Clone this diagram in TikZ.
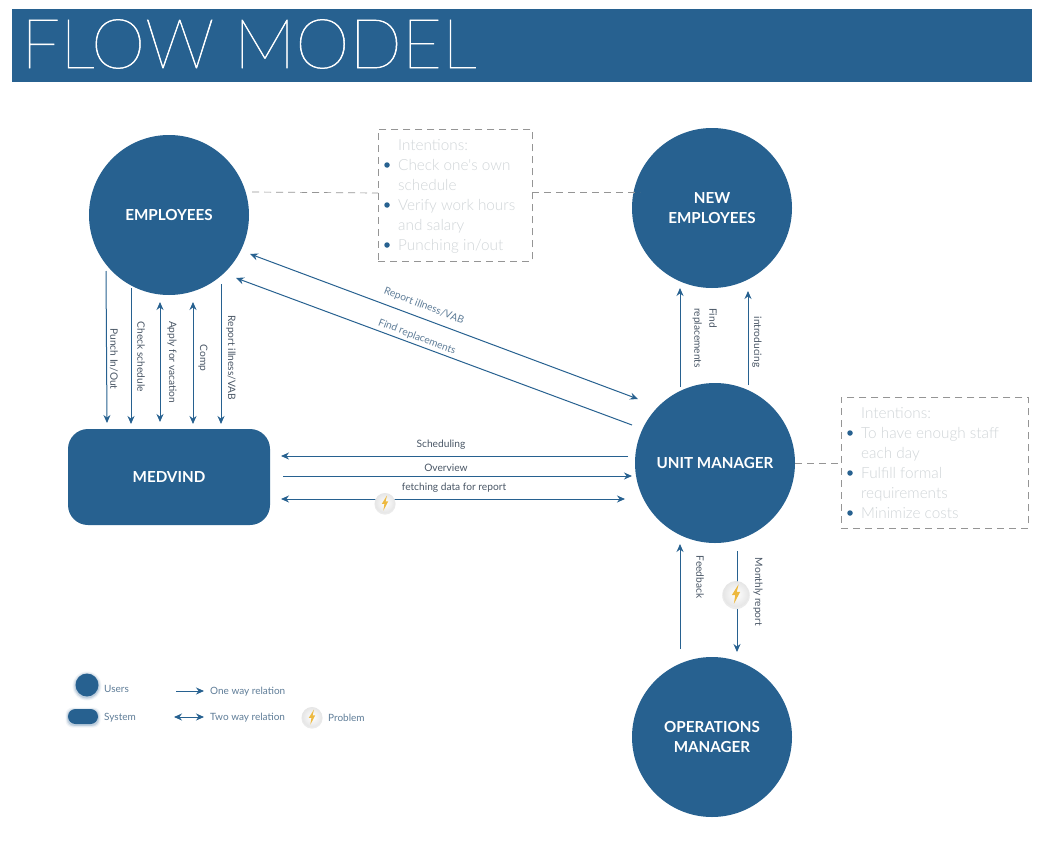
\documentclass[tikz,border=0pt]{standalone}
\usepackage{fontspec}
\usetikzlibrary{arrows.meta}
\setmainfont{Lato}
\newfontfamily\thinfont{Lato Light}
\newfontfamily\hairfont[FakeBold=0.8]{Lato Thin}
\definecolor{fmblue}{HTML}{276190}
\definecolor{fmgrey}{HTML}{D0D5D8}
\definecolor{fmdash}{HTML}{959595}
\definecolor{fmlabel}{HTML}{4A5766}
\definecolor{fmlegend}{HTML}{5F7D98}
\definecolor{fmgold}{HTML}{EDB93F}
\tikzset{
  x=1pt,y=-1pt,
  actor/.style={circle,fill=fmblue,minimum size=160pt,inner sep=0pt,text=white,align=center,
    font=\bfseries\fontsize{15.2}{20}\selectfont},
  sysbox/.style={rectangle,rounded corners=20pt,fill=fmblue,minimum width=202pt,minimum height=96pt,inner sep=0pt,
    text=white,font=\bfseries\fontsize{15.2}{20}\selectfont},
  flow/.style={draw=fmblue,line width=1pt,-{Stealth[length=8pt,width=7pt]}},
  flowboth/.style={draw=fmblue,line width=1pt,{Stealth[length=8pt,width=7pt]}-{Stealth[length=8pt,width=7pt]}},
  lab/.style={text=fmlabel,inner sep=0pt,font=\fontsize{10.2}{12}\selectfont},
  vlab/.style={lab,rotate=-90},
  leglab/.style={text=fmlegend,inner sep=0pt,anchor=west,font=\fontsize{10}{12}\selectfont},
  note/.style={draw=fmdash,line width=0.9pt,dash pattern=on 7pt off 5pt,inner sep=0pt,anchor=north west},
  notetext/.style={text=fmgrey,inner sep=0pt,anchor=north west,align=left,font=\thinfont\fontsize{15.3}{20}\selectfont},
  notelink/.style={draw=fmdash,line width=0.7pt,dash pattern=on 7pt off 5pt},
  dot/.style={circle,fill=fmblue,minimum size=5.5pt,inner sep=0pt},
  problem/.pic={
    \fill[black!8] (0,1) circle[radius=10.6];
    \shade[inner color=white,outer color=black!10] (0,0) circle[radius=10];
    \fill[fmgold] (2,-7.5) -- (-3.2,0.8) -- (-0.6,0.8) -- (-1.6,7.5) -- (3.2,-1.6) -- (0.6,-1.6) -- cycle;
  },
}
\begin{document}
\begin{tikzpicture}
\useasboundingbox (0,0) rectangle (1046,843);
\fill[white] (0,0) rectangle (1046,843);

% banner
\node[fill=fmblue,minimum width=1020pt,minimum height=73pt,inner sep=0pt,anchor=north west] (banner) at (12,9) {};
\node[text=white,inner sep=0pt,anchor=west,font=\hairfont\fontsize{69}{70}\selectfont] (title) at (21,44) {FLOW MODEL};

% actors
\node[actor] (emp) at (169,215) {\raisebox{-1pt}{EMPLOYEES}};
\node[actor] (new) at (712,208) {NEW\\EMPLOYEES};
\node[actor] (um) at (715,463) {UNIT MANAGER};
\node[actor] (ops) at (712,737) {OPERATIONS\\MANAGER};
\node[sysbox] (med) at (169,477) {\raisebox{-1pt}{MEDVIND}};

% notes
\node[note,minimum width=154pt,minimum height=132pt] (note1) at (378,129) {};
\node[notetext] (note1t) at (398,139) {Intentions:\\Check one's own\\schedule\\Verify work hours\\and salary\\Punching in/out};
\node[dot] (b1a) at (387,165) {};
\node[dot] (b1b) at (387,205) {};
\node[dot] (b1c) at (387,245) {};
\node[note,minimum width=187pt,minimum height=131pt] (note2) at (841,397) {};
\node[notetext] (note2t) at (861,407) {Intentions:\\To have enough staff\\each day\\Fulfill formal\\requirements\\Minimize costs};
\node[dot] (b2a) at (850,433) {};
\node[dot] (b2b) at (850,473) {};
\node[dot] (b2c) at (850,513) {};

% dashed links
\coordinate (e1) at (252,192); \coordinate (n1l) at (378,193);
\coordinate (n1r) at (532,192); \coordinate (ne) at (640,192);
\coordinate (u2) at (795,463); \coordinate (n2l) at (841,463);
\draw[notelink] (e1) -- (n1l);
\draw[notelink] (n1r) -- (ne);
\draw[notelink] (u2) -- (n2l);

% employees <-> medvind
\coordinate (a1) at (106,271); \coordinate (a2) at (107,423);
\coordinate (b1) at (131,288); \coordinate (b2) at (131,424);
\coordinate (c1) at (160,302); \coordinate (c2) at (160,422);
\coordinate (d1) at (193,302); \coordinate (d2) at (193,424);
\coordinate (f1) at (221,284); \coordinate (f2) at (221,424);
\draw[flow] (a1) -- (a2);
\draw[flow] (b1) -- (b2);
\draw[flowboth] (c1) -- (c2);
\draw[flowboth] (d1) -- (d2);
\draw[flow] (f1) -- (f2);
\node[vlab] (lpunch) at (114,359) {Punch In/Out};
\node[vlab] (lcheck) at (141,357) {Check schedule};
\node[vlab] (lapply) at (172,362) {Apply for vacation};
\node[vlab] (lcomp) at (203,358) {Comp};
\node[vlab] (lrep) at (231,358) {Report illness/VAB};

% employees <-> unit manager
\coordinate (g1) at (250,254); \coordinate (g2) at (638,399);
\coordinate (h1) at (632,425); \coordinate (h2) at (236,278);
\draw[flowboth] (g1) -- (g2);
\draw[flow] (h1) -- (h2);
\node[lab,rotate=-21,text=fmlegend] (lg) at (424,306) {Report illness/VAB};
\node[lab,rotate=-21,text=fmlegend] (lh) at (417,337) {Find replacements};

% medvind <-> unit manager
\coordinate (s1) at (628,456); \coordinate (s2) at (281,456);
\coordinate (o1) at (283,476); \coordinate (o2) at (632,476);
\coordinate (p1) at (281,499); \coordinate (p2) at (625,499);
\draw[flow] (s1) -- (s2);
\draw[flow] (o1) -- (o2);
\draw[flowboth] (p1) -- (p2);
\node[lab] (ls) at (441,445) {Scheduling};
\node[lab] (lo) at (446,468) {Overview};
\node[lab] (lp) at (454,488) {fetching data for report};
\pic (prob1) at (385,503) {problem};

% unit manager -> new employees
\coordinate (r1) at (680,387); \coordinate (r2) at (680,288);
\coordinate (i1) at (748,385); \coordinate (i2) at (748,291);
\draw[flow] (r1) -- (r2);
\draw[flow] (i1) -- (i2);
\node[vlab,anchor=north west,align=left] (lfind) at (717,308) {Find\\[3pt]replacements};
\node[vlab] (lintro) at (757,342) {introducing};

% unit manager <-> operations manager
\coordinate (k1) at (680,649); \coordinate (k2) at (680,544);
\coordinate (m1) at (737,551); \coordinate (m2) at (737,652);
\draw[flow] (k1) -- (k2);
\draw[flow] (m1) -- (m2);
\node[vlab] (lfeed) at (700,577) {Feedback};
\node[vlab] (lmon) at (758,592) {Monthly report};
\pic[scale=1.3] (prob2) at (736,594) {problem};

% legend glow
\foreach \w/\o in {29/0.06,27/0.1,25/0.16}{
  \fill[fmblue,opacity=\o] (87,686) circle[radius=\w/2];
}
\foreach \g/\o in {2.5/0.06,1.6/0.1,0.8/0.16}{
  \fill[fmblue,opacity=\o,rounded corners=7pt] (68-\g,709-\g+1) rectangle (98+\g,724+\g+1);
}
\node[circle,fill=fmblue,minimum size=23pt,inner sep=0pt] (lgu) at (87,685) {};
\node[rectangle,rounded corners=7.5pt,fill=fmblue,minimum width=30pt,minimum height=15pt,inner sep=0pt] (lgs) at (83,716.5) {};
\node[leglab] (ltu) at (104,689) {Users};
\node[leglab] (lts) at (104,717.5) {System};
\coordinate (q1) at (176,691); \coordinate (q2) at (204,691);
\coordinate (t1) at (174,717); \coordinate (t2) at (204,717);
\draw[flow,line width=0.9pt] (q1) -- (q2);
\draw[flowboth,line width=0.9pt] (t1) -- (t2);
\node[leglab] (lq) at (210,691.5) {One way relation};
\node[leglab] (lt) at (210,717.5) {Two way relation};
\pic (prob3) at (312,717) {problem};
\node[leglab] (lpr) at (328,717.5) {Problem};
\end{tikzpicture}
\end{document}
